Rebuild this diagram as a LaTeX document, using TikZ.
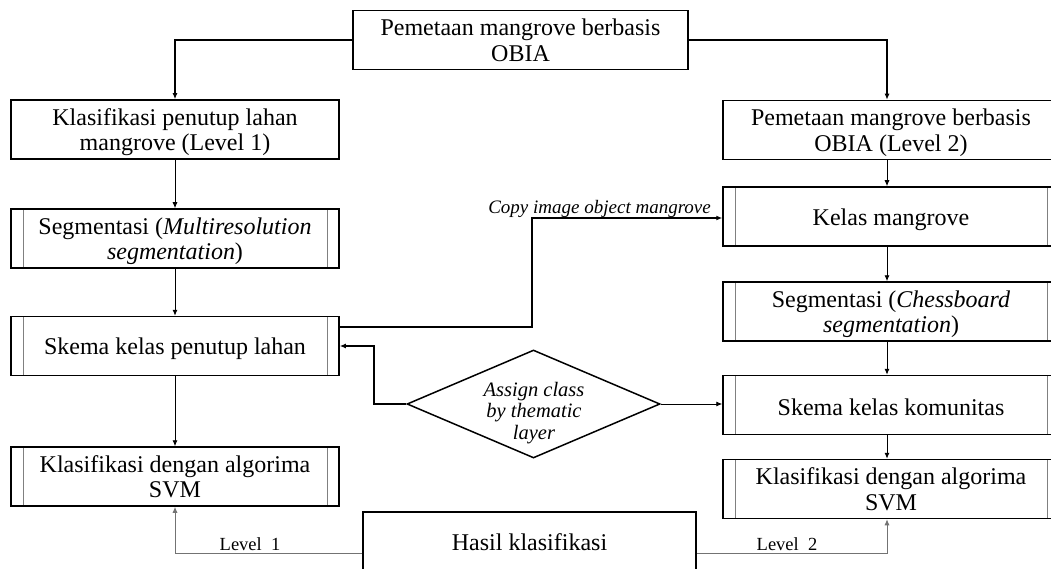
\documentclass[tikz,border=0pt]{standalone}
\usepackage{fontspec}
\setmainfont{Liberation Serif}
\usetikzlibrary{arrows.meta,shapes.geometric}
\newcommand\lowr[1]{\rule{0pt}{#1}}
\tikzset{
  box/.style={draw=black, line width=1.5pt, inner sep=0pt, align=center,
    minimum height=59pt, font=\fontsize{24}{25.5}\selectfont},
  lbox/.style={box, minimum width=328pt},
  rbox/.style={box, minimum width=336pt},
  proc/.style={path picture={
      \draw[gray, line width=0.9pt]
        ([xshift=12pt]path picture bounding box.north west) -- ([xshift=12pt]path picture bounding box.south west)
        ([xshift=-12pt]path picture bounding box.north east) -- ([xshift=-12pt]path picture bounding box.south east);}},
  thick conn/.style={line width=1.6pt, -{Latex[length=6pt,width=5pt]}},
  thin conn/.style={line width=0.9pt, -{Latex[length=6pt,width=5pt]}},
  grey conn/.style={draw=gray!90!black, line width=0.9pt, -{Latex[length=6pt,width=5pt]}},
  diam/.style={diamond, draw=black, line width=1.5pt, inner sep=0pt,
    minimum width=253pt, minimum height=108pt},
  dtext/.style={align=center, inner sep=0pt, font=\fontsize{20.5}{21.5}\selectfont\itshape},
  lbl/.style={font=\fontsize{18.5}{20}\selectfont, inner sep=0pt},
}
\begin{document}
\begin{tikzpicture}[x=1pt,y=-1pt]
\useasboundingbox (0,0) rectangle (1051,569);
\clip (0,0) rectangle (1051,569);
\fill[white] (0,0) rectangle (1051,569);

\node[box, minimum width=335pt] (top) at (520.5,40) {Pemetaan mangrove berbasis\\\smash{OBIA}};

\node[lbox] (L1) at (175,129.5) {Klasifikasi penutup lahan\\\smash{mangrove (Level 1)}};
\node[lbox,proc] (L2) at (175,238.5) {Segmentasi (\textit{Multiresolution}\\\smash{\textit{segmentation})}};
\node[lbox,proc] (L3) at (175,346) {\lowr{22pt}Skema kelas penutup lahan};
\node[lbox,proc] (L4) at (175,476.5) {Klasifikasi dengan algorima\\\smash{SVM}};

\node[rbox] (R1) at (891,130) {Pemetaan mangrove berbasis\\\smash{OBIA (Level 2)}};
\node[rbox,proc] (R2) at (891,216.5) {\lowr{23pt}Kelas mangrove};
\node[rbox,proc] (R3) at (891,311.5) {Segmentasi (\textit{Chessboard}\\\smash{\textit{segmentation})}};
\node[rbox,proc] (R4) at (891,405) {\lowr{22pt}Skema kelas komunitas};
\node[rbox,proc] (R5) at (891,489) {Klasifikasi dengan algorima\\\smash{SVM}};

\node[diam] (D) at (533.5,404) {};
\node[dtext] (Dt) at (534,413) {Assign class\\by thematic\\layer};

\node[box, minimum width=333pt, minimum height=60pt] (H) at (529.5,542) {Hasil klasifikasi};

% top connectors
\draw[thick conn] (top.west) -| (L1.north);
\draw[thick conn] (top.east) -| ([xshift=-4pt]R1.north);

% left column
\draw[thin conn] (L1) -- (L2);
\draw[thin conn] (L2) -- (L3);
\draw[thin conn] (L3) -- (L4);

% right column
\draw[thin conn] ([xshift=-4pt]R1.south) -- ([xshift=-4pt]R2.north);
\draw[thin conn] ([xshift=-4pt]R2.south) -- ([xshift=-4pt]R3.north);
\draw[thin conn] ([xshift=-4pt]R3.south) -- ([xshift=-4pt]R4.north);
\draw[thin conn] ([xshift=-4pt]R4.south) -- ([xshift=-4pt]R5.north);

% copy image object
\coordinate (cp) at (532,218);
\draw[thick conn, line width=1.3pt] ([yshift=19pt]L3.east) -| (cp) -- (R2.west |- cp);
\node[font=\fontsize{19}{22}\selectfont\itshape, anchor=south east, inner sep=0pt] (cpl) at (711,218) {Copy image object mangrove};

% diamond connectors
\coordinate (dl) at (374,404);
\draw[thick conn, line width=1.3pt] (D.west) -- (dl) |- (L3.east);
\draw[thin conn] (D.east) -- (R4.west |- D.east);

% result connectors
\draw[grey conn] ([yshift=-11pt]H.west) -| (L4.south);
\draw[grey conn] ([yshift=-11pt]H.east) -| ([xshift=-4pt]R5.south);
\node[lbl] (lv1) at (250,544) {Level\ \ 1};
\node[lbl] (lv2) at (787,544) {Level\ \ 2};
\end{tikzpicture}
\end{document}
